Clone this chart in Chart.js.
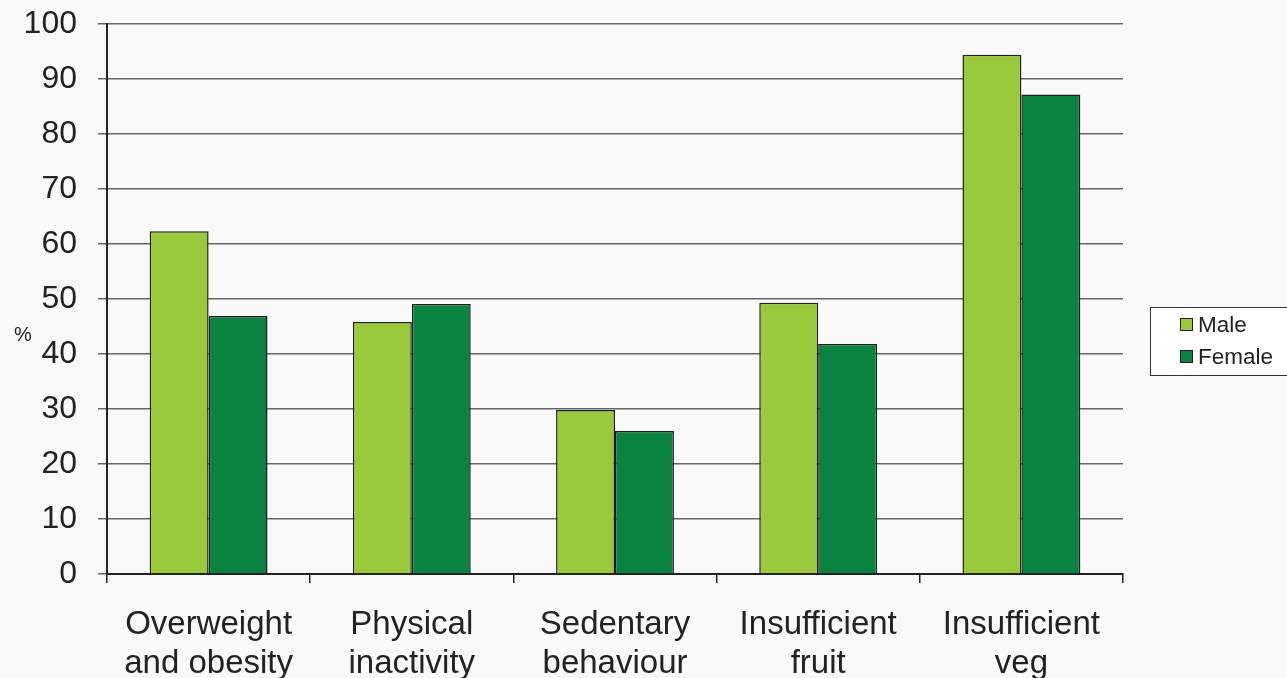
<!DOCTYPE html>
<html>
<head>
<meta charset="utf-8">
<script src="https://cdn.jsdelivr.net/npm/chart.js@4/dist/chart.umd.min.js"></script>
<style>
  html, body { margin: 0; padding: 0; background: #f9f9f9; }
  #wrap { width: 1287px; height: 678px; position: relative; }
</style>
</head>
<body>
<div id="wrap"><canvas id="chart"></canvas></div>
<script>
// Data
const categories = [
    ['Overweight', 'and obesity'],
    ['Physical', 'inactivity'],
    ['Sedentary', 'behaviour'],
    ['Insufficient', 'fruit'],
    ['Insufficient', 'veg']
];
const maleValues = [62.3, 45.8, 29.8, 49.3, 94.4];
const femaleValues = [46.9, 49.1, 26.0, 41.8, 87.2];
const seriesNames = ['Male', 'Female'];
const seriesColors = ['#9aca3c', '#0a8341'];
const yTicks = [0, 10, 20, 30, 40, 50, 60, 70, 80, 90, 100];
const yLabel = '%';

const FONT = 'Liberation Sans, Arial, sans-serif';

// Legend box + "%" label drawn by hand
const extras = {
    id: 'extras',
    afterDraw(chart) {
        const ctx = chart.ctx;
        ctx.save();
        // % label
        ctx.fillStyle = '#222';
        ctx.font = '20px ' + FONT;
        ctx.textAlign = 'left';
        ctx.textBaseline = 'alphabetic';
        ctx.fillText(yLabel, 14, 341);

        // legend
        ctx.fillStyle = '#ffffff';
        ctx.fillRect(1150, 307, 150, 68);
        ctx.strokeStyle = '#333';
        ctx.lineWidth = 1;
        ctx.strokeRect(1150.5, 307.5, 150, 68);
        chart.data.datasets.forEach((ds, i) => {
            const y = 318 + i * 32;
            ctx.fillStyle = ds.backgroundColor;
            ctx.fillRect(1180, y, 13, 13);
            ctx.strokeStyle = '#222';
            ctx.strokeRect(1180.5, y + 0.5, 12, 12);
            ctx.fillStyle = '#222';
            ctx.font = '22.5px ' + FONT;
            ctx.fillText(ds.label, 1198, y + 14);
        });
        ctx.restore();
    }
};

new Chart(document.getElementById('chart'), {
    type: 'bar',
    data: {
        labels: categories,
        datasets: [
            { label: seriesNames[0], data: maleValues, backgroundColor: seriesColors[0] },
            { label: seriesNames[1], data: femaleValues, backgroundColor: seriesColors[1] }
        ].map(ds => Object.assign(ds, {
            borderColor: '#1e1e1e',
            borderWidth: 1.5,
            categoryPercentage: 0.58,
            barPercentage: 1
        }))
    },
    options: {
        responsive: true,
        maintainAspectRatio: false,
        animation: false,
        layout: { padding: { top: 24, right: 164, left: 0, bottom: 0 } },
        plugins: {
            legend: { display: false },
            tooltip: { enabled: false }
        },
        scales: {
            x: {
                afterFit: s => { s.height = 104; s.paddingLeft = 0; s.paddingRight = 0; },
                grid: {
                    drawOnChartArea: false,
                    drawTicks: true,
                    tickLength: 9,
                    color: '#222',
                    lineWidth: 1.5
                },
                border: { color: '#222', width: 2 },
                ticks: {
                    color: '#222',
                    padding: 22,
                    maxRotation: 0,
                    autoSkip: false,
                    font: { family: FONT, size: 33, lineHeight: 1.18 }
                }
            },
            y: {
                min: 0,
                max: 100,
                afterFit: s => { s.width = 107; s.paddingTop = 0; s.paddingBottom = 0; },
                afterBuildTicks: s => { s.ticks = yTicks.map(v => ({ value: v })); },
                grid: {
                    color: '#666',
                    lineWidth: 1.5,
                    tickLength: 9,
                    drawTicks: true
                },
                border: { color: '#222', width: 2 },
                ticks: {
                    color: '#222',
                    padding: 21,
                    font: { family: FONT, size: 32 }
                }
            }
        }
    },
    plugins: [extras]
});
</script>
</body>
</html>
